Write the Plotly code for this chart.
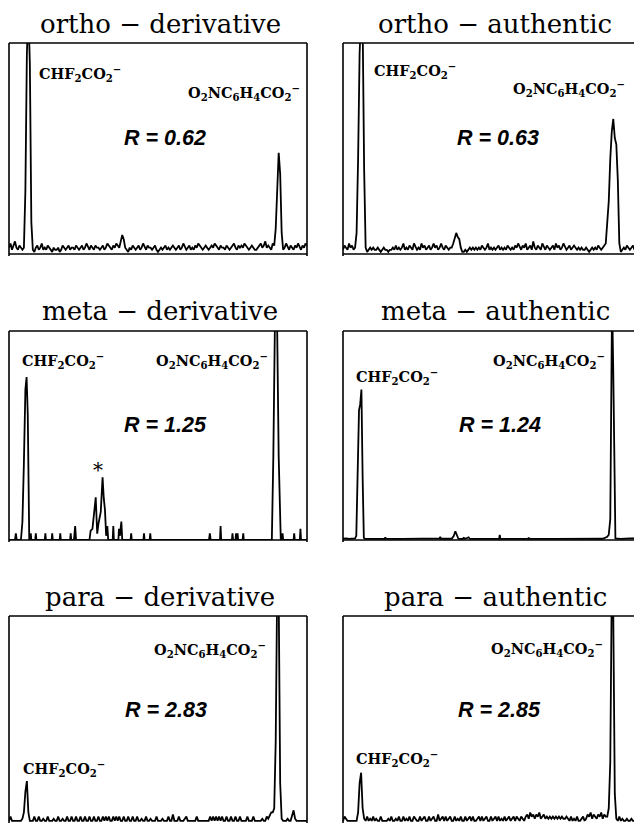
import numpy as np
import plotly.graph_objects as go

W, H = 634, 823

titles = ["ortho − derivative", "ortho − authentic",
          "meta − derivative", "meta − authentic",
          "para − derivative", "para − authentic"]
ratios = ["R = 0.62", "R = 0.63", "R = 1.25", "R = 1.24", "R = 2.83", "R = 2.85"]
label_chf = "<b>CHF<sub>2</sub>CO<sub>2</sub><sup>−</sup></b>"
label_o2n = "<b>O<sub>2</sub>NC<sub>6</sub>H<sub>4</sub>CO<sub>2</sub><sup>−</sup></b>"

STEP = 0.5  # sampling interval of the grid-sampled traces (retention units)

# ortho - derivative (relative intensity, grid 0..100 step 0.5)
ortho_der_y = [
    3, 5, 2, 4, 6, 3, 2, 4, 3, 2,
    3, 30, 95, 115, 90, 15, 2, 1, 3, 4,
    2, 3, 5, 2, 3, 2, 4, 3, 2, 1,
    3, 2, 2, 3, 1, 2, 4, 3, 2, 3,
    4, 2, 3, 3, 2, 4, 3, 2, 3, 4,
    2, 3, 5, 3, 2, 4, 3, 2, 4, 3,
    3, 2, 3, 4, 2, 3, 5, 4, 3, 2,
    4, 3, 5, 4, 3, 6, 9, 7, 3, 2,
    1, 3, 2, 4, 3, 2, 3, 4, 2, 3,
    5, 3, 2, 4, 3, 3, 2, 3, 4, 2,
    1, 2, 3, 2, 3, 4, 2, 3, 2, 3,
    4, 3, 2, 3, 4, 2, 3, 5, 3, 2,
    3, 4, 2, 3, 2, 4, 3, 5, 4, 3,
    2, 3, 4, 3, 2, 3, 4, 3, 5, 4,
    3, 2, 4, 3, 3, 2, 4, 3, 2, 3,
    4, 5, 3, 2, 4, 3, 4, 3, 5, 4,
    3, 2, 3, 4, 3, 2, 2, 3, 4, 5,
    3, 4, 6, 3, 4, 3, 2, 5, 4, 12,
    35, 48, 38, 10, 2, 3, 5, 3, 2, 4,
    3, 2, 4, 3, 5, 3, 2, 4, 3, 5,
    4,
]

# ortho - authentic
ortho_auth_y = [
    2, 4, 3, 2, 5, 3, 4, 2, 3, 10,
    45, 95, 115, 110, 40, 3, 1, 2, 3, 2,
    3, 2, 2, 3, 2, 1, 2, 3, 2, 2,
    1, 2, 2, 3, 2, 4, 2, 3, 2, 3,
    5, 2, 3, 2, 4, 3, 2, 5, 3, 2,
    3, 2, 5, 3, 4, 2, 3, 4, 2, 3,
    5, 3, 4, 2, 3, 5, 3, 2, 4, 3,
    2, 3, 3, 5, 8, 10, 8, 7, 3, 1,
    1, 2, 1, 2, 3, 2, 3, 2, 3, 2,
    3, 2, 4, 3, 2, 3, 5, 2, 3, 2,
    3, 2, 3, 4, 2, 3, 2, 3, 2, 4,
    3, 2, 3, 2, 4, 3, 5, 3, 2, 4,
    3, 5, 2, 3, 4, 2, 6, 3, 2, 4,
    3, 2, 5, 3, 2, 4, 3, 2, 3, 4,
    2, 5, 3, 4, 2, 3, 5, 3, 2, 3,
    4, 2, 3, 4, 3, 2, 3, 2, 3, 2,
    2, 3, 2, 1, 2, 3, 2, 3, 2, 4,
    3, 2, 3, 4, 5, 15, 25, 45, 58, 64,
    55, 52, 35, 5, 1, 2, 3, 2, 4, 3,
    2, 3, 4, 2, 3, 2, 3, 2, 3, 2,
    3,
]

# meta - derivative (explicit retention / intensity pairs)
meta_der_x = [0, 2.0, 2.3, 2.6, 4.0, 4.5, 5.0, 5.5, 5.9, 6.3, 6.8, 7.1, 7.3, 7.5,
              8.8, 9.0, 9.2, 12.0, 12.2, 12.4, 14.3, 14.5, 14.7, 17.0, 17.2, 17.4,
              20.5, 20.7, 20.9, 21.8, 22.2, 22.5, 27.0, 27.4, 28.0, 28.6, 29.1, 29.6,
              30.0, 30.8, 31.4, 31.8, 32.2, 32.6, 33.0, 33.3, 34.8, 35.0, 35.2,
              36.7, 36.9, 37.2, 37.7, 38.0, 40.8, 41.0, 41.2, 45.1, 45.3, 45.5,
              47.2, 47.4, 47.6, 67.1, 67.4, 67.7, 70.8, 71.0, 71.2, 74.8, 75.0, 75.2,
              76.0, 76.2, 76.4, 76.5, 76.7, 76.9, 78.4, 78.6, 78.8,
              88.2, 88.7, 89.2, 89.6, 90.0, 90.5, 90.9, 91.2, 91.6, 91.8, 92.0,
              95.5, 95.7, 95.9, 97.6, 97.8, 98.0, 100]
meta_der_y = [0, 0, 3.2, 0, 0, 8.6, 37, 72, 78, 60, 0, 0, 3.2, 0,
              0, 3.2, 0, 0, 3.2, 0, 0, 3.2, 0, 0, 3.2, 0,
              0, 3.2, 0, 0, 6.7, 0, 0, 4.5, 5.3, 14, 20.4, 3,
              7.6, 13.6, 30, 20, 14.4, 2, 6.7, 0, 0, 6.7, 0,
              0, 5.3, 2, 8.8, 0, 0, 3.2, 0, 0, 3.2, 0,
              0, 3.2, 0, 0, 3.2, 0, 0, 6.7, 0, 0, 3.2, 0,
              0, 3.2, 0, 0, 3.2, 0, 0, 3.2, 0,
              0, 40, 100, 115, 100, 40, 8, 0, 0, 3.2, 0,
              0, 3.2, 0, 0, 5.3, 0, 0]

# meta - authentic
meta_auth_x = [0, 1, 2, 3, 4, 4.4, 4.9, 5.3, 5.7, 6.1, 6.5, 6.9, 7.3, 10, 13.8, 14, 14.2,
               20, 25, 30, 32, 32.2, 32.4, 36, 36.7, 37.2, 37.7, 38.2, 39.5, 40, 40.5,
               41.6, 42, 50, 51.7, 51.9, 52.1, 55, 61.3, 61.5, 61.7, 70, 80, 86,
               87.5, 88, 88.5, 88.8, 89.1, 89.5, 89.9, 90.2, 92, 95, 100]
meta_auth_y = [0.6, 0.8, 0.5, 0.6, 0.8, 2, 30, 62, 65, 72, 30, 1, 0.5, 0.5, 0.5, 1.3, 0.5,
               0.5, 0.6, 0.5, 0.8, 1.5, 0.6, 0.6, 2, 4.2, 2, 0.6, 0.5, 1, 0.6,
               1.3, 0.5, 0.5, 0.6, 2.5, 0.6, 0.5, 0.5, 1.2, 0.5, 0.5, 0.5, 0.6,
               1.5, 2.5, 10, 80, 115, 80, 10, 0.8, 0.5, 0.8, 0.6]

# para - derivative (grid 0..100 step 0.5)
para_der_y = [
    2, 4, 2, 2, 2, 2, 2, 2, 2, 3,
    6, 16, 21, 6, 2, 2, 2, 4, 2, 2,
    4, 2, 2, 3, 2, 2, 4, 2, 2, 2,
    3, 2, 2, 4, 2, 2, 3, 2, 2, 4,
    2, 2, 4, 2, 2, 4, 2, 2, 4, 2,
    2, 4, 2, 2, 4, 2, 2, 4, 2, 2,
    4, 2, 2, 4, 2, 4, 2, 4, 2, 2,
    4, 2, 4, 2, 4, 2, 2, 4, 2, 2,
    4, 2, 2, 4, 2, 2, 4, 2, 2, 3,
    2, 2, 4, 2, 2, 3, 2, 2, 2, 4,
    2, 2, 2, 3, 2, 2, 2, 4, 2, 2,
    5, 2, 2, 2, 4, 2, 2, 2, 3, 4,
    2, 2, 2, 2, 2, 2, 4, 2, 2, 2,
    2, 2, 2, 2, 2, 4, 2, 4, 2, 4,
    2, 4, 2, 4, 2, 2, 4, 2, 2, 4,
    2, 2, 4, 2, 2, 4, 2, 2, 2, 2,
    4, 2, 2, 2, 4, 2, 2, 2, 2, 2,
    3, 2, 2, 4, 3, 5, 6, 6, 8, 40,
    115, 110, 20, 3, 2, 2, 2, 3, 2, 2,
    4, 7, 3, 2, 2, 2, 2, 2, 2, 2,
    2,
]

# para - authentic
para_auth_y = [
    2, 4, 3, 2, 2, 2, 2, 2, 2, 2,
    6, 20, 25, 8, 3, 2, 4, 2, 3, 2,
    4, 2, 3, 2, 2, 4, 2, 2, 2, 2,
    3, 2, 4, 2, 2, 3, 2, 4, 2, 2,
    4, 2, 3, 2, 4, 2, 2, 4, 3, 2,
    2, 4, 2, 3, 4, 2, 2, 4, 2, 3,
    4, 2, 2, 5, 2, 3, 4, 2, 4, 2,
    3, 4, 2, 2, 4, 2, 3, 2, 4, 2,
    2, 4, 2, 3, 4, 2, 4, 2, 2, 3,
    4, 2, 4, 2, 3, 4, 2, 2, 4, 2,
    3, 4, 2, 4, 2, 3, 2, 4, 2, 3,
    4, 2, 3, 4, 2, 4, 3, 2, 4, 3,
    2, 4, 5, 3, 6, 4, 5, 3, 5, 4,
    6, 3, 4, 5, 3, 4, 3, 4, 3, 4,
    3, 4, 3, 4, 3, 4, 3, 3, 4, 3,
    2, 4, 2, 3, 2, 4, 2, 2, 3, 4,
    2, 3, 5, 4, 6, 3, 5, 4, 3, 5,
    4, 6, 3, 5, 4, 4, 8, 30, 115, 100,
    15, 3, 2, 4, 2, 3, 2, 2, 3, 2,
    2, 3, 2, 2, 3, 2, 2, 2, 3, 2,
    2,
]


def grid_x(ys):
    return list(np.arange(len(ys)) * STEP)


series = [
    (grid_x(ortho_der_y), ortho_der_y),
    (grid_x(ortho_auth_y), ortho_auth_y),
    (meta_der_x, meta_der_y),
    (meta_auth_x, meta_auth_y),
    (grid_x(para_der_y), para_der_y),
    (grid_x(para_auth_y), para_auth_y),
]

# ---- layout geometry (page pixels) ----
COLS = [(9, 307), (343, 645)]               # left/right edge of panel boxes
ROWS = [(43, 254), (331, 540), (616, 825)]  # top / data-zero of panel boxes


def px(x):
    return x / W


def py(y):
    return 1 - y / H


fig = go.Figure()
shapes = []
annotations = []
lw = dict(color="black", width=1.6)

for k, (xs, ys) in enumerate(series):
    r, c = divmod(k, 2)
    x0, x1 = COLS[c]
    t0, b0 = ROWS[r]
    n = k + 1
    xa = "x" if n == 1 else f"x{n}"
    ya = "y" if n == 1 else f"y{n}"
    fig.add_trace(go.Scatter(x=xs, y=ys, mode="lines", xaxis=xa, yaxis=ya,
                             line=dict(color="black", width=1.8),
                             hoverinfo="skip", showlegend=False))
    vx1 = min(x1, W)
    vb = min(b0, H)
    xrange = [0, 100 * (vx1 - x0) / (x1 - x0)]
    ylow = (b0 - vb) / (b0 - t0) * 100
    key_x = "xaxis" if n == 1 else f"xaxis{n}"
    key_y = "yaxis" if n == 1 else f"yaxis{n}"
    fig.update_layout(**{
        key_x: dict(domain=[px(x0), px(vx1)], range=xrange, visible=False,
                    anchor=ya, fixedrange=True),
        key_y: dict(domain=[py(vb), py(t0)], range=[ylow, 100], visible=False,
                    anchor=xa, fixedrange=True),
    })
    shapes.append(dict(type="line", xref="paper", yref="paper",
                       x0=px(x0), x1=px(x0), y0=py(t0), y1=py(b0 + 2), line=lw))
    shapes.append(dict(type="line", xref="paper", yref="paper",
                       x0=px(x0), x1=px(x1), y0=py(t0), y1=py(t0), line=lw))
    shapes.append(dict(type="line", xref="paper", yref="paper",
                       x0=px(x0), x1=px(x1), y0=py(b0), y1=py(b0), line=lw))
    shapes.append(dict(type="line", xref="paper", yref="paper",
                       x0=px(x1), x1=px(x1), y0=py(t0), y1=py(b0 + 2), line=lw))

# titles
title_pos = [(160, 24), (495, 24), (160, 311), (495, 311), (160, 597), (495, 597)]
for t, (x, y) in zip(titles, title_pos):
    annotations.append(dict(text=t, x=px(x), y=py(y), xref="paper", yref="paper",
                            xanchor="center", yanchor="middle", showarrow=False,
                            font=dict(family="DejaVu Serif", size=26, color="black")))

# R values
r_pos = [(164.5, 138), (497.5, 138), (165.5, 425), (499.5, 425), (165.5, 710), (499.5, 710)]
for t, (x, y) in zip(ratios, r_pos):
    annotations.append(dict(text=f"<b><i>{t}</i></b>", x=px(x), y=py(y),
                            xref="paper", yref="paper", xanchor="center",
                            yanchor="middle", showarrow=False,
                            font=dict(family="Liberation Sans", size=21.5, color="black")))

# compound labels: (left x, cap-centre y)
chf_pos = [(37, 73), (372, 71), (20, 361), (354, 376), (21, 768), (354, 758)]
o2n_pos = [(186, 92), (511, 89), (154, 361), (491, 361), (152, 649), (489, 648)]
for (x, y) in chf_pos:
    annotations.append(dict(text=label_chf, x=px(x), y=py(y), xref="paper", yref="paper",
                            xanchor="left", yanchor="middle", showarrow=False,
                            font=dict(family="DejaVu Serif", size=14.5, color="black")))
for (x, y) in o2n_pos:
    annotations.append(dict(text=label_o2n, x=px(x), y=py(y), xref="paper", yref="paper",
                            xanchor="left", yanchor="middle", showarrow=False,
                            font=dict(family="DejaVu Serif", size=14.5, color="black")))

# asterisk marking the impurity peak (meta - derivative)
annotations.append(dict(text="*", x=px(98), y=py(470), xref="paper", yref="paper",
                        xanchor="center", yanchor="middle", showarrow=False,
                        font=dict(family="DejaVu Serif", size=20, color="black")))

fig.update_layout(width=W, height=H, margin=dict(l=0, r=0, t=0, b=0),
                  paper_bgcolor="white", plot_bgcolor="white",
                  shapes=shapes, annotations=annotations, showlegend=False)

fig.write_html("out.html",
               config={"displayModeBar": False, "staticPlot": True},
               post_script="document.body.style.margin='0';"
                           "document.body.style.overflow='hidden';")
